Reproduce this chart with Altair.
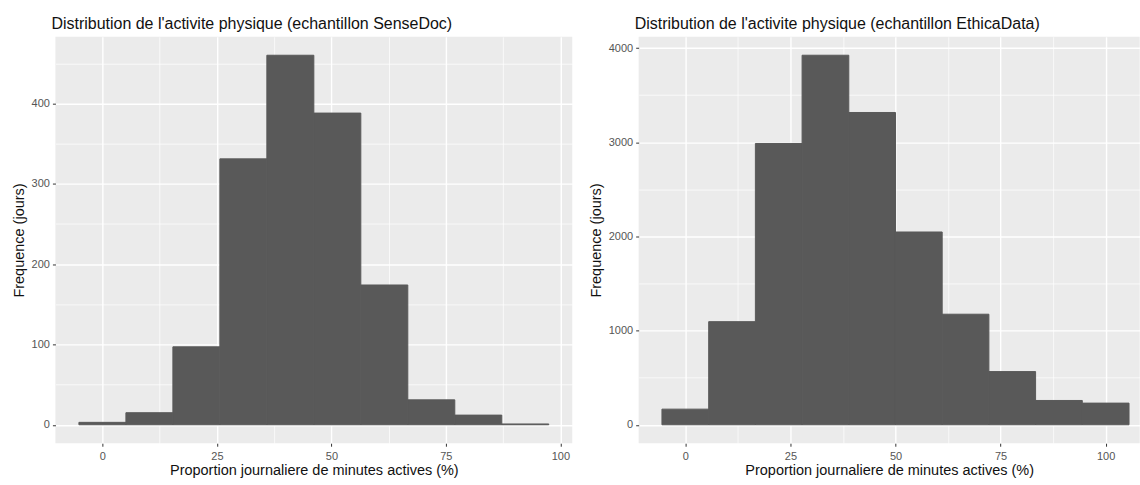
import altair as alt
import pandas as pd

# ---- data ----
sd_bin_start = [-5.13, 5.13, 15.39, 25.65, 35.91, 46.17, 56.43, 66.69, 76.95, 87.21]
sd_bin_end = [5.13, 15.39, 25.65, 35.91, 46.17, 56.43, 66.69, 76.95, 87.21, 97.47]
sd_counts = [3, 15, 97, 331, 460, 388, 174, 31, 12, 1]

et_bin_start = [-5.56, 5.56, 16.67, 27.78, 38.89, 50.0, 61.11, 72.22, 83.33, 94.44]
et_bin_end = [5.56, 16.67, 27.78, 38.89, 50.0, 61.11, 72.22, 83.33, 94.44, 105.56]
et_counts = [166, 1095, 2987, 3924, 3316, 2047, 1174, 565, 258, 230]

x_ticks = [0, 25, 50, 75, 100]
x_minor = [12.5, 37.5, 62.5, 87.5]
sd_y_ticks = [0, 100, 200, 300, 400]
sd_y_minor = [50, 150, 250, 350, 450]
et_y_ticks = [0, 1000, 2000, 3000, 4000]
et_y_minor = [500, 1500, 2500, 3500]

title_sd = "Distribution de l'activite physique (echantillon SenseDoc)"
title_et = "Distribution de l'activite physique (echantillon EthicaData)"
x_title = "Proportion journaliere de minutes actives (%)"
y_title = "Frequence (jours)"

FONT = "Liberation Sans"


def panel(starts, ends, counts, title, xdom, ydom, yt, ym, width, height):
    df = pd.DataFrame({"start": starts, "end": ends, "count": counts})
    xs = alt.Scale(domain=xdom, nice=False, zero=False)
    ys = alt.Scale(domain=ydom, nice=False, zero=False)
    major_ax = dict(grid=True, gridColor="white", gridWidth=1.4, domain=False,
                    ticks=True, tickSize=3, tickColor="#333333", tickWidth=1,
                    labelFont=FONT, labelFontSize=11, labelColor="#555555",
                    titleFont=FONT, titleFontSize=14.5, titleColor="#111111",
                    titleFontWeight="normal", format="d")
    bars = alt.Chart(df).mark_rect(color="#595959", stroke="#595959",
                                   strokeWidth=1, clip=True).encode(
        x=alt.X("start:Q", scale=xs,
                axis=alt.Axis(values=x_ticks, title=x_title, labelPadding=4,
                              titlePadding=2, **major_ax)),
        x2="end:Q",
        y=alt.Y("count:Q", scale=ys,
                axis=alt.Axis(values=yt, title=y_title, labelPadding=3,
                              titlePadding=5, **major_ax)),
        y2=alt.datum(0),
    )
    minor_ax = dict(grid=True, gridColor="white", gridWidth=0.7, domain=False,
                    ticks=False, labels=False, title=None)
    minor = alt.Chart(df).mark_rect(opacity=0).encode(
        x=alt.X("start:Q", scale=xs, axis=alt.Axis(values=x_minor, **minor_ax)),
        x2="end:Q",
        y=alt.Y("count:Q", scale=ys, axis=alt.Axis(values=ym, **minor_ax)),
        y2=alt.datum(0),
    )
    return alt.layer(bars, minor).resolve_axis(x="independent", y="independent").properties(
        width=width, height=height,
        title=alt.Title(title, anchor="start", frame="group", fontSize=16,
                        font=FONT, fontWeight="normal", color="#111111",
                        offset=5, dx=-4),
    )


left = panel(sd_bin_start, sd_bin_end, sd_counts, title_sd,
             [-10.26, 102.6], [-23, 483], sd_y_ticks, sd_y_minor, 517.5, 407)
right = panel(et_bin_start, et_bin_end, et_counts, title_et,
              [-11.1, 108.1], [-196, 4120], et_y_ticks, et_y_minor, 501.7, 407)

chart = alt.hconcat(left, right, spacing=66, bounds="flush").properties(
    padding={"left": 10.5, "top": 15.5, "right": 0, "bottom": 6},
    background="white",
).configure_view(fill="#EBEBEB", stroke=None)

chart.save("out.html", embed_options={"renderer": "svg", "actions": False})
